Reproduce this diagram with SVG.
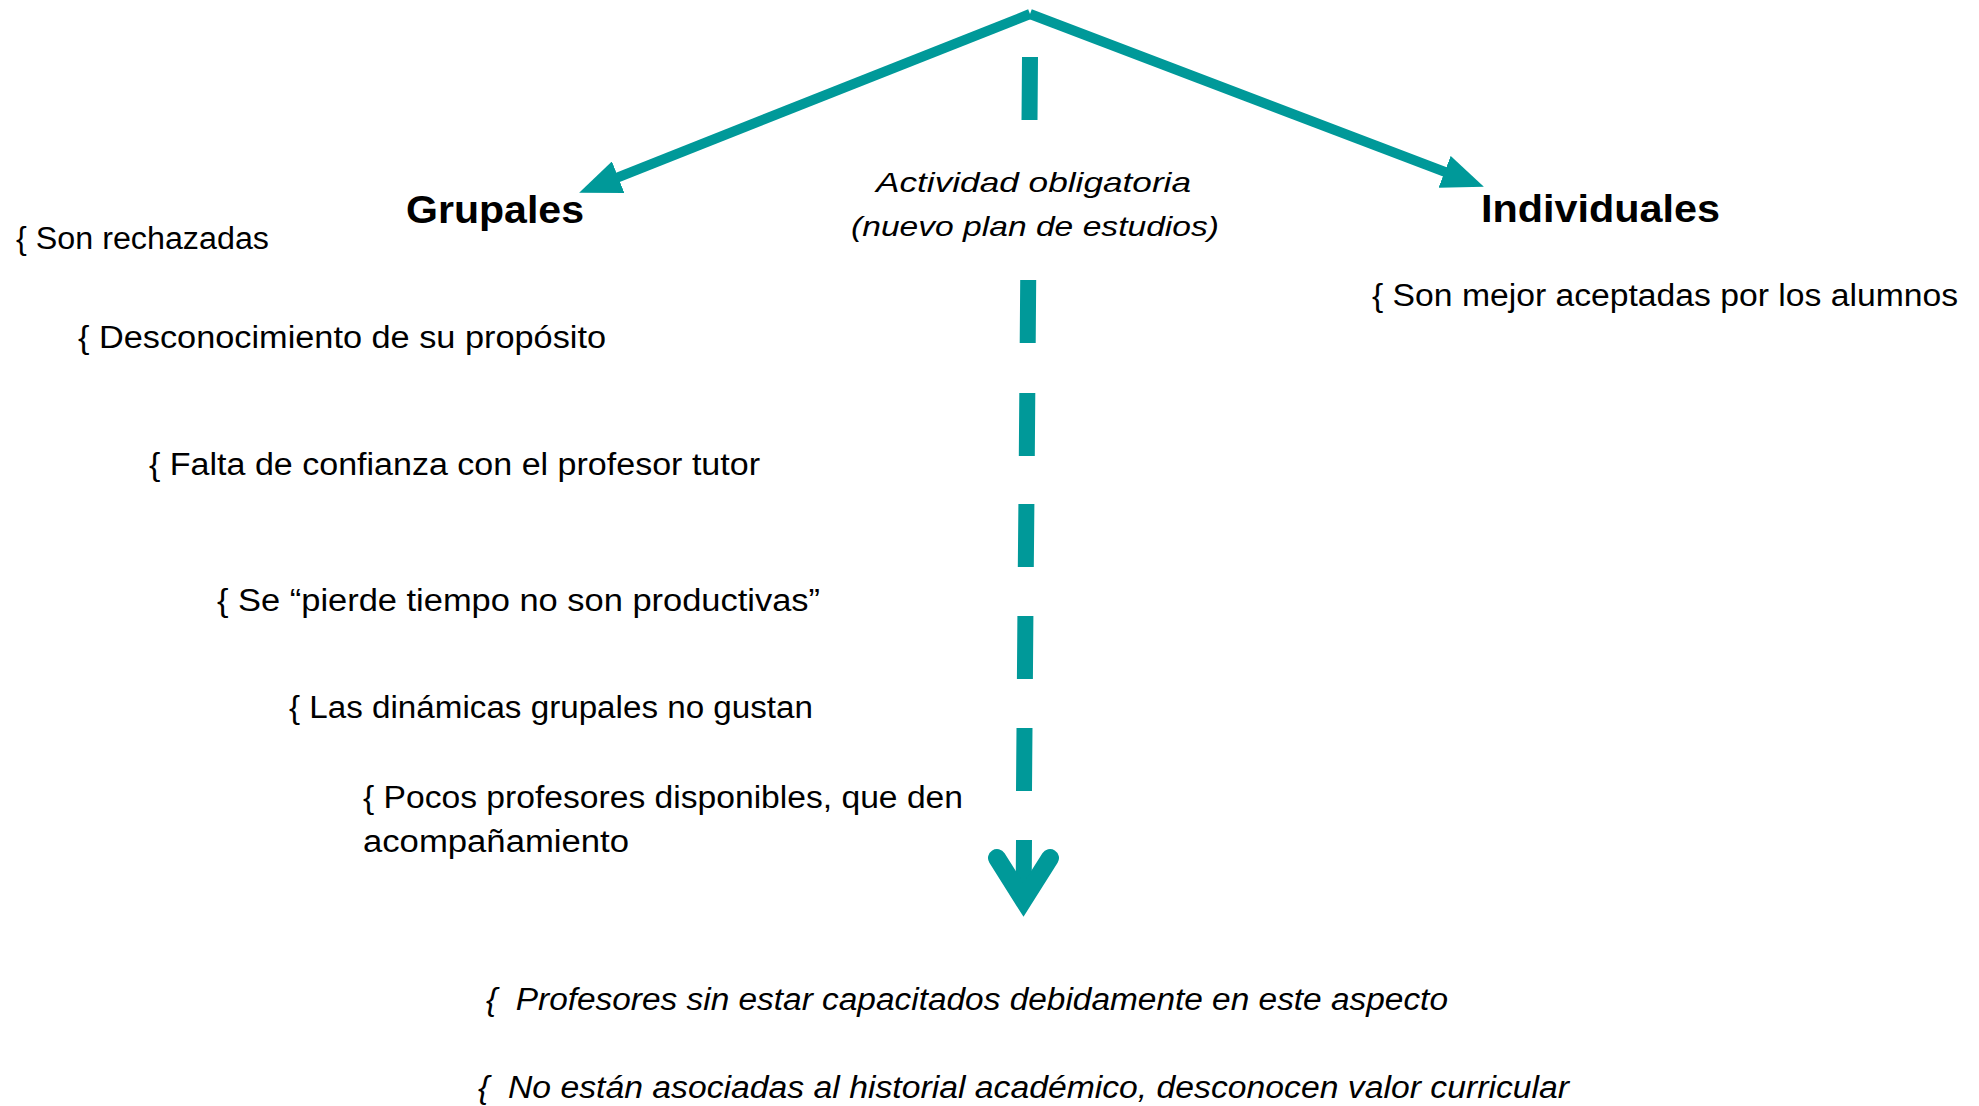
<svg xmlns="http://www.w3.org/2000/svg" width="1979" height="1106" viewBox="0 0 1979 1106">
<style>
text { font-family: "Liberation Sans", Arial, sans-serif; fill: #000; white-space: pre; }
.head { font-weight: bold; font-size: 39px; }
.item { font-size: 31px; }
.ital { font-style: italic; font-size: 31px; }
.note { font-style: italic; font-size: 28px; }
.conn { stroke: #009999; fill: none; }
.arrow { stroke-width: 10; }
.dash { stroke-width: 16; }
</style>
<defs>
<marker id="tri" markerUnits="userSpaceOnUse" markerWidth="42" markerHeight="34" viewBox="0 0 42 34" refX="20" refY="17" orient="auto">
<path d="M0,0 L42,17 L0,34 z" fill="#009999"/>
</marker>
</defs>
<rect width="1979" height="1106" fill="#ffffff"/>
<g id="connectors">
<line class="conn arrow" x1="1030" y1="14" x2="599.6" y2="184.6" marker-end="url(#tri)"/>
<line class="conn arrow" x1="1030" y1="14" x2="1463.3" y2="178.9" marker-end="url(#tri)"/>
<path class="conn dash" d="M1030,57 L1029.5,120 M1028.2,280 L1027.7,343 M1027.3,393 L1026.8,456 M1026.4,504 L1025.8,567 M1025.4,616 L1024.9,679 M1024.5,728 L1024,791 M1024,840 L1023.6,902"/>
<polyline class="conn" stroke-width="18" stroke-linecap="round" stroke-linejoin="miter" points="997,858 1023.5,900 1050,858"/>
</g>
<g id="node-grupales"><text class="head" x="406" y="223" textLength="178" lengthAdjust="spacingAndGlyphs">Grupales</text></g>
<g id="node-individuales"><text class="head" x="1481" y="222" textLength="239" lengthAdjust="spacingAndGlyphs">Individuales</text></g>
<g id="node-actividad">
<text class="note" x="876" y="192" textLength="315" lengthAdjust="spacingAndGlyphs">Actividad obligatoria</text>
<text class="note" x="851" y="236" textLength="368" lengthAdjust="spacingAndGlyphs">(nuevo plan de estudios)</text>
</g>
<g id="node-g1"><text class="item" x="16" y="249" textLength="253" lengthAdjust="spacingAndGlyphs">{ Son rechazadas</text></g>
<g id="node-g2"><text class="item" x="78" y="348" textLength="528" lengthAdjust="spacingAndGlyphs">{ Desconocimiento de su propósito</text></g>
<g id="node-g3"><text class="item" x="149" y="475" textLength="611" lengthAdjust="spacingAndGlyphs">{ Falta de confianza con el profesor tutor</text></g>
<g id="node-g4"><text class="item" x="217" y="611" textLength="603" lengthAdjust="spacingAndGlyphs">{ Se “pierde tiempo no son productivas”</text></g>
<g id="node-g5"><text class="item" x="289" y="718" textLength="524" lengthAdjust="spacingAndGlyphs">{ Las dinámicas grupales no gustan</text></g>
<g id="node-g6">
<text class="item" x="363" y="808" textLength="600" lengthAdjust="spacingAndGlyphs">{ Pocos profesores disponibles, que den</text>
<text class="item" x="363" y="852" textLength="266" lengthAdjust="spacingAndGlyphs">acompañamiento</text>
</g>
<g id="node-i1"><text class="item" x="1372" y="306" textLength="586" lengthAdjust="spacingAndGlyphs">{ Son mejor aceptadas por los alumnos</text></g>
<g id="node-b1"><text class="ital" x="486" y="1010" textLength="962" lengthAdjust="spacingAndGlyphs">{  Profesores sin estar capacitados debidamente en este aspecto</text></g>
<g id="node-b2"><text class="ital" x="478" y="1098" textLength="1091" lengthAdjust="spacingAndGlyphs">{  No están asociadas al historial académico, desconocen valor curricular</text></g>
</svg>
